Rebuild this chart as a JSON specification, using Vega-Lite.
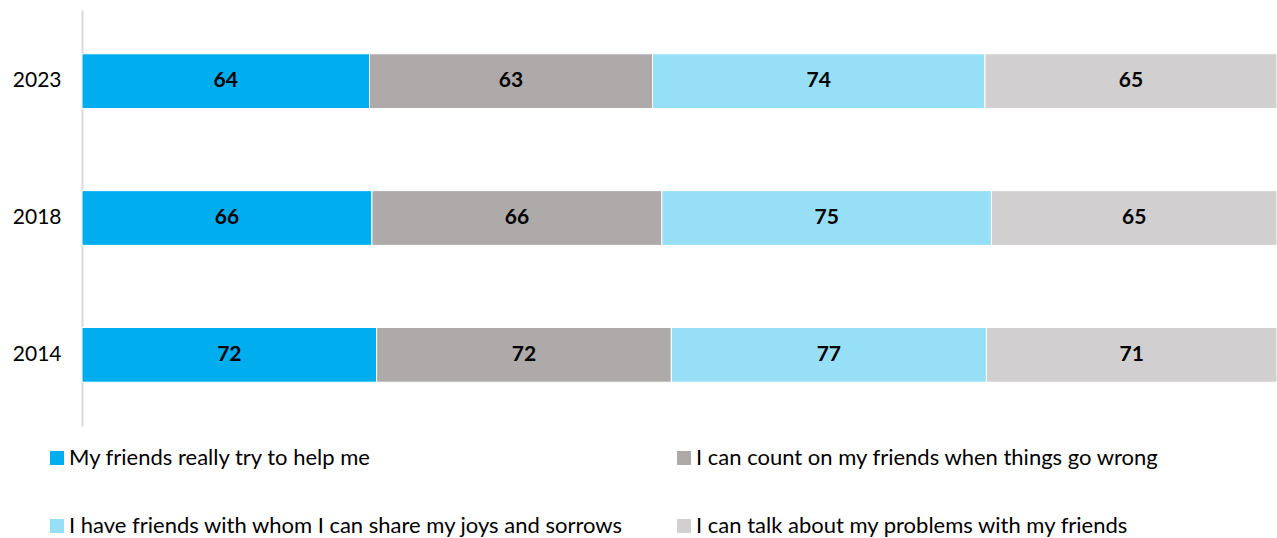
{
  "$schema": "https://vega.github.io/schema/vega-lite/v6.json",
  "width": 1195,
  "height": 416,
  "autosize": "none",
  "padding": {"left": 82, "top": 10, "right": 0, "bottom": 112},
  "config": {
    "font": "Lato",
    "view": {"stroke": null},
    "legend": {"padding": 0}
  },
  "data": {
    "values": [
      {"year": "2023", "item": 1, "statement": "My friends really try to help me", "value": 64},
      {"year": "2023", "item": 2, "statement": "I can count on my friends when things go wrong", "value": 63},
      {"year": "2023", "item": 3, "statement": "I have friends with whom I can share my joys and sorrows", "value": 74},
      {"year": "2023", "item": 4, "statement": "I can talk about my problems with my friends", "value": 65},
      {"year": "2018", "item": 1, "statement": "My friends really try to help me", "value": 66},
      {"year": "2018", "item": 2, "statement": "I can count on my friends when things go wrong", "value": 66},
      {"year": "2018", "item": 3, "statement": "I have friends with whom I can share my joys and sorrows", "value": 75},
      {"year": "2018", "item": 4, "statement": "I can talk about my problems with my friends", "value": 65},
      {"year": "2014", "item": 1, "statement": "My friends really try to help me", "value": 72},
      {"year": "2014", "item": 2, "statement": "I can count on my friends when things go wrong", "value": 72},
      {"year": "2014", "item": 3, "statement": "I have friends with whom I can share my joys and sorrows", "value": 77},
      {"year": "2014", "item": 4, "statement": "I can talk about my problems with my friends", "value": 71}
    ]
  },
  "transform": [
    {
      "stack": "value",
      "groupby": ["year"],
      "sort": [{"field": "item", "order": "ascending"}],
      "offset": "normalize",
      "as": ["x0", "x1"]
    },
    {"calculate": "(datum.x0 + datum.x1) / 2", "as": "xmid"}
  ],
  "encoding": {
    "y": {
      "field": "year",
      "type": "nominal",
      "sort": ["2023", "2018", "2014"],
      "scale": {"paddingInner": 0.6, "paddingOuter": 0.32},
      "axis": {
        "title": null,
        "ticks": false,
        "domainColor": "#d9d9d9",
        "domainWidth": 2,
        "labelFontSize": 21,
        "labelColor": "#000000",
        "labelPadding": 21,
        "labelFont": "Lato"
      }
    }
  },
  "layer": [
    {
      "mark": {"type": "bar", "stroke": "#ffffff", "strokeWidth": 1},
      "encoding": {
        "x": {
          "field": "x0",
          "type": "quantitative",
          "scale": {"domain": [0, 1], "nice": false},
          "axis": null
        },
        "x2": {"field": "x1"},
        "color": {
          "field": "statement",
          "type": "nominal",
          "sort": [
            "My friends really try to help me",
            "I can count on my friends when things go wrong",
            "I have friends with whom I can share my joys and sorrows",
            "I can talk about my problems with my friends"
          ],
          "scale": {"range": ["#00aeef", "#adaaa9", "#97def7", "#d1cfd0"]},
          "legend": {
            "title": null,
            "orient": "none",
            "legendX": -36,
            "legendY": 437,
            "direction": "horizontal",
            "columns": 2,
            "columnPadding": 49,
            "rowPadding": 46,
            "symbolType": "square",
            "symbolSize": 196,
            "symbolStrokeWidth": 0,
            "symbolOpacity": 1,
            "labelFontSize": 22,
            "labelColor": "#000000",
            "labelOffset": 1,
            "labelLimit": 800
          }
        }
      }
    },
    {
      "mark": {"type": "text", "fontSize": 21, "fontWeight": "bold", "color": "#000000", "baseline": "middle", "align": "center"},
      "encoding": {
        "x": {"field": "xmid", "type": "quantitative"},
        "text": {"field": "value", "type": "quantitative"}
      }
    }
  ]
}
